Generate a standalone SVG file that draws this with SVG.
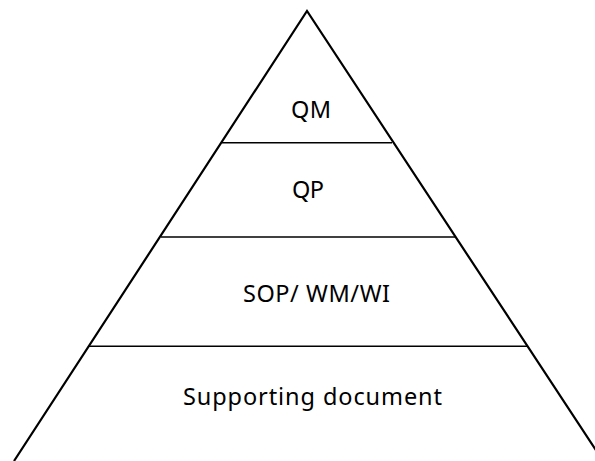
<svg xmlns="http://www.w3.org/2000/svg" width="595" height="461" viewBox="0 0 595 461">
  <style>
    .edge { fill: none; stroke: #000; stroke-width: 2.2; stroke-linejoin: miter; }
    .sep { stroke: #000; stroke-width: 1.4; }
    .lbl { font-family: "Noto Sans", "Open Sans", sans-serif; font-size: 23.5px; fill: #000; }
  </style>
  <rect width="595" height="461" fill="#fff"/>
  <g id="pyramid">
    <path class="edge" d="M14,461 L307,11 L603,461"/>
  </g>
  <g id="connectors">
    <line class="sep" x1="222" y1="142.7" x2="392" y2="142.7"/>
    <line class="sep" x1="161" y1="237" x2="456" y2="237"/>
    <line class="sep" x1="89" y1="346.3" x2="527" y2="346.3"/>
  </g>
  <g id="qm">
    <text class="lbl" x="291" y="118" textLength="40" lengthAdjust="spacing">QM</text>
  </g>
  <g id="qp">
    <text class="lbl" x="292" y="198" textLength="32" lengthAdjust="spacing">QP</text>
  </g>
  <g id="sop">
    <text class="lbl" x="243" y="302" textLength="147" lengthAdjust="spacing">SOP/ WM/WI</text>
  </g>
  <g id="supporting">
    <text class="lbl" x="183" y="405" textLength="259" lengthAdjust="spacing">Supporting document</text>
  </g>
</svg>
